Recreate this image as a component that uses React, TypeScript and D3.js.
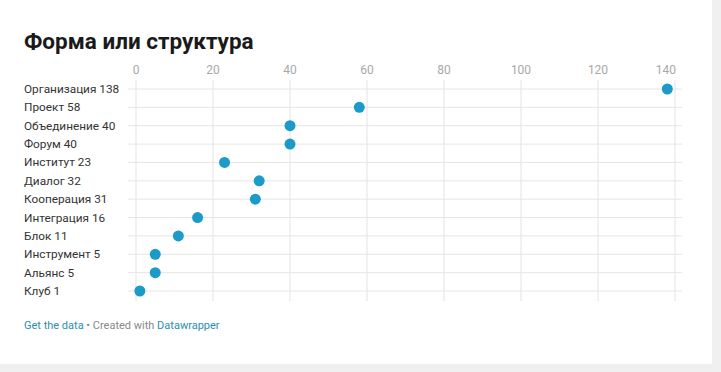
import React from "react";
import * as d3 from "d3";

const categories = ["Организация", "Проект", "Объединение", "Форум", "Институт", "Диалог", "Кооперация", "Интеграция", "Блок", "Инструмент", "Альянс", "Клуб"];
const values = [138, 58, 40, 40, 23, 32, 31, 16, 11, 5, 5, 1];
const xTicks = [0, 20, 40, 60, 80, 100, 120, 140];
const title = "Форма или структура";

export default function App() {
  const W = 721, H = 372;
  const x = d3.scaleLinear().domain([0, 140]).range([136, 675]);
  const y = d3.scalePoint<string>().domain(categories).range([89, 291]);
  const font = "Roboto, 'Noto Sans', sans-serif";
  return (
    <svg width={W} height={H} style={{ position: "absolute", left: 0, top: 0, display: "block" }} fontFamily={font}>
      <rect x={0} y={0} width={W} height={H} fill="#f0f0f0" />
      <rect x={0} y={0} width={712} height={364} fill="#ffffff" />
      <text x={24} y={49} fontSize={22.5} fontWeight={700} fill="#1a1a1a">{title}</text>
      {xTicks.map((t, i) => (
        <g key={t}>
          <line x1={x(t)} x2={x(t)} y1={80} y2={301} stroke="#e3e3e3" strokeWidth={1} />
          <text x={i === xTicks.length - 1 ? x(t) + 1 : x(t)} y={74} fontSize={12} fill="#a8a8a8"
            textAnchor={i === xTicks.length - 1 ? "end" : "middle"}>{t}</text>
        </g>
      ))}
      {categories.map((c, i) => (
        <g key={c}>
          <line x1={128} x2={682} y1={y(c)!} y2={y(c)!} stroke="#e6e6e6" strokeWidth={1} />
          <text x={24} y={y(c)! + 4} fontSize={11.8} fill="#333333">{c + " " + values[i]}</text>
        </g>
      ))}
      {categories.map((c, i) => (
        <circle key={c} cx={x(values[i])} cy={y(c)!} r={5.5} fill="#1d9bc8" />
      ))}
      <text x={24} y={329} fontSize={11}>
        <tspan fill="#2a8fb0">Get the data</tspan>
        <tspan fill="#888888">{" • Created with "}</tspan>
        <tspan fill="#2a8fb0">Datawrapper</tspan>
      </text>
    </svg>
  );
}
